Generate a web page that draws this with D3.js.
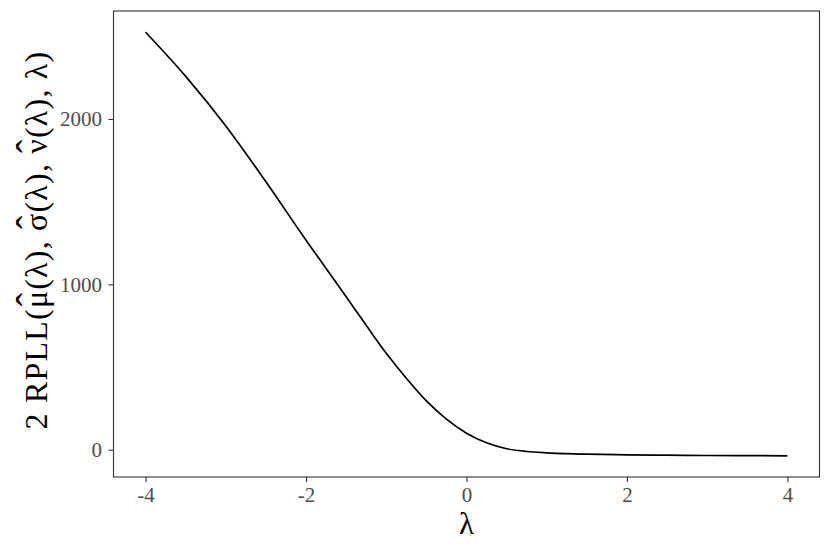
<!DOCTYPE html>
<html lang="en">
<head>
    <meta charset="UTF-8">
    <title>RPLL profile</title>
    <script src="https://d3js.org/d3.v7.min.js"></script>
    <style>
        body {
            margin: 0;
            background-color: #fff;
        }
        svg text {
            font-family: "Liberation Serif", "Times New Roman", serif;
        }
        .axis text {
            fill: #4d4d4d;
            font-size: 21px;
        }
        .axis line {
            stroke: #333;
            stroke-width: 1.1;
        }
        .axis path {
            display: none;
        }
    </style>
</head>
<body>
    <div id="chart"></div>

    <script>
    // Values
    const lambda = [-4, -3.5, -3, -2.5, -2, -1.75, -1.5, -1.25, -1, -0.75, -0.5, -0.25, 0, 0.25, 0.5, 0.75, 1, 1.25, 1.5, 2, 2.5, 3, 3.5, 4];
    const rpll = [2525, 2258, 1958, 1620, 1267, 1096, 925, 752, 583, 432, 295, 185, 100, 42, 6, -11, -19, -24, -27, -31, -33, -35, -36, -37];
    const xTicks = [-4, -2, 0, 2, 4];
    const yTicks = [0, 1000, 2000];
    const yTitle = "2 RPLL(μ(λ), σ(λ), ν(λ), λ)";
    const hatted = ["μ", "σ", "ν"];

    const W = 830, H = 554;
    const margin = {top: 11, right: 10.5, bottom: 77, left: 113.5};
    const width = W - margin.left - margin.right,
          height = H - margin.top - margin.bottom;

    const svg = d3.select("#chart").append("svg")
        .attr("width", W)
        .attr("height", H);

    const g = svg.append("g")
        .attr("transform", `translate(${margin.left},${margin.top})`);

    // ggplot-style 5% expansion
    const xExt = d3.extent(lambda), yExt = d3.extent(rpll);
    const xPad = (xExt[1] - xExt[0]) * 0.05, yPad = (yExt[1] - yExt[0]) * 0.05;

    const x = d3.scaleLinear()
        .domain([xExt[0] - xPad, xExt[1] + xPad])
        .range([0, width]);
    const y = d3.scaleLinear()
        .domain([yExt[0] - yPad, yExt[1] + yPad])
        .range([height, 0]);

    const data = lambda.map((l, i) => ({l: l, v: rpll[i]}));

    const line = d3.line()
        .x(d => x(d.l))
        .y(d => y(d.v))
        .curve(d3.curveMonotoneX);

    g.append("path")
        .datum(data)
        .attr("fill", "none")
        .attr("stroke", "#000")
        .attr("stroke-width", 1.7)
        .attr("d", line);

    // axes (plain hyphen for negatives, like R)
    g.append("g")
        .attr("class", "axis")
        .attr("transform", `translate(0,${height})`)
        .call(d3.axisBottom(x).tickValues(xTicks).tickSize(5).tickPadding(5).tickFormat(d => String(d)));

    g.append("g")
        .attr("class", "axis")
        .call(d3.axisLeft(y).tickValues(yTicks).tickSize(5).tickPadding(6.5).tickFormat(d => String(d)));

    // panel border
    g.append("rect")
        .attr("width", width)
        .attr("height", height)
        .attr("fill", "none")
        .attr("stroke", "#333")
        .attr("stroke-width", 1.1);

    // axis titles
    svg.append("text")
        .attr("x", margin.left + width / 2)
        .attr("y", 534)
        .attr("text-anchor", "middle")
        .style("font-size", "31px")
        .text("λ");

    const yt = svg.append("g")
        .attr("transform", `translate(47,240) rotate(-90)`);
    const ytText = yt.append("text")
        .style("font-size", "32px")
        .style("letter-spacing", "1.2px")
        .text(yTitle);

    // centre it by hand so the hats can be placed from substring widths
    const node = ytText.node();
    const total = node.getComputedTextLength();
    ytText.attr("x", -total / 2);

    // hats over the estimates
    [...yTitle].forEach((ch, i) => {
        if (!hatted.includes(ch)) return;
        const start = node.getSubStringLength(0, i);
        const w = node.getSubStringLength(i, 1);
        yt.append("text")
            .attr("x", -total / 2 + start + w / 2 - 0.6)
            .attr("y", -3)
            .attr("text-anchor", "middle")
            .style("font-size", "40px")
            .text("ˆ");
    });
    </script>
</body>
</html>
